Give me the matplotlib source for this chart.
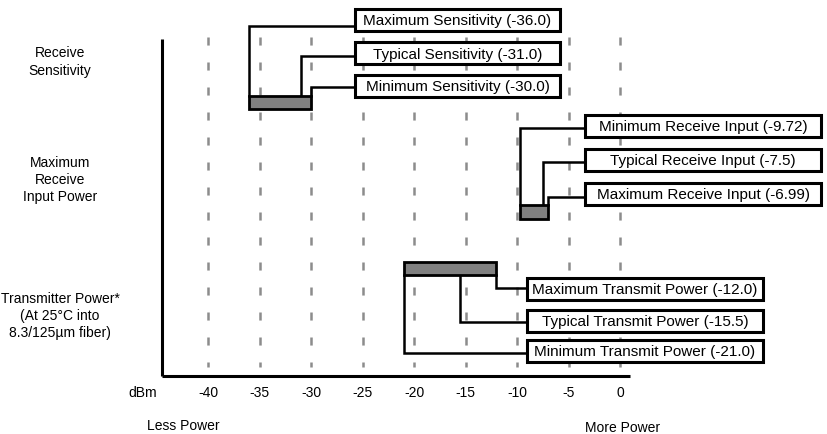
import matplotlib
matplotlib.use('Agg')
import matplotlib.pyplot as plt
from matplotlib.patches import Rectangle

plt.rcParams['font.family'] = ['Liberation Sans', 'DejaVu Sans']
plt.rcParams['lines.scale_dashes'] = False

# dBm axis
ticks = [-40, -35, -30, -25, -20, -15, -10, -5, 0]

# the three specs, values in dBm
sens_names = ['Maximum Sensitivity', 'Typical Sensitivity', 'Minimum Sensitivity']
sens_values = [-36.0, -31.0, -30.0]

rx_names = ['Minimum Receive Input', 'Typical Receive Input', 'Maximum Receive Input']
rx_values = [-9.72, -7.5, -6.99]

tx_names = ['Maximum Transmit Power', 'Typical Transmit Power', 'Minimum Transmit Power']
tx_values = [-12.0, -15.5, -21.0]

row_labels = ['Receive\nSensitivity',
              'Maximum\nReceive\nInput Power',
              'Transmitter Power*\n(At 25\u00b0C into\n8.3/125\u00b5m fiber)']

# pixel layout (y grows downward)
W, H = 827, 435
X0, PX_PER_DB = 620, 10.3


def px2db(p):
    return (p - X0) / PX_PER_DB


fig = plt.figure(figsize=(W / 100, H / 100), dpi=100)
ax = fig.add_axes([0, 0, 1, 1])
ax.set_xlim(px2db(0), px2db(W))
ax.set_ylim(H, 0)
ax.axis('off')

# dashed grid
ax.vlines(ticks, 38, 368, colors='#8c8c8c', linewidth=1.8,
          linestyles=(0, (5.8, 12.2)), zorder=1)

# axes
ax.plot([px2db(162), px2db(162)], [40, 377], color='black', lw=2.2,
        solid_capstyle='butt', zorder=2)
ax.plot([px2db(162), px2db(630)], [377, 377], color='black', lw=2.2,
        solid_capstyle='butt', zorder=2)

for t in ticks:
    ax.text(t, 393, str(t), ha='center', va='center', fontsize=10)
ax.text(px2db(157), 393, 'dBm', ha='right', va='center', fontsize=10)
ax.text(px2db(183), 426, 'Less Power', ha='center', va='center', fontsize=10)
ax.text(px2db(623), 428, 'More Power', ha='center', va='center', fontsize=10)

for lab, yc in zip(row_labels, [62, 180, 316]):
    ax.text(px2db(60), yc, lab, ha='center', va='center', fontsize=10,
            linespacing=1.3)

groups = [
    # names, values, bar top, bar height, leader ys, box left, box width, box tops, up?
    (sens_names, sens_values, 97, 13, [27, 57, 88], 355, 205, [10, 43, 76], True),
    (rx_names, rx_values, 206, 14, [129, 163, 198], 585, 236, [116, 150, 184], True),
    (tx_names, tx_values, 263, 13, [289, 323, 354], 527, 236, [279, 311, 341], False),
]

for names, values, bar_top, bar_h, lead_y, box_x, box_w, box_tops, up in groups:
    lo, hi = min(values), max(values)
    start_y = bar_top if up else bar_top + bar_h
    for v, ly in zip(values, lead_y):
        ax.plot([v, v, px2db(box_x)], [start_y, ly, ly], color='black', lw=1.8,
                solid_joinstyle='miter', zorder=3)
    ax.add_patch(Rectangle((lo, bar_top), hi - lo, bar_h, facecolor='#808080',
                           edgecolor='black', lw=2.0, zorder=4))
    for name, v, top in zip(names, values, box_tops):
        ax.add_patch(Rectangle((px2db(box_x), top), box_w / PX_PER_DB, 22,
                               facecolor='white', edgecolor='black', lw=2.2,
                               zorder=5))
        ax.text(px2db(box_x + box_w / 2), top + 11.5, f'{name} ({v})',
                ha='center', va='center', fontsize=11, zorder=6)

fig.savefig('out.png', dpi=100)
